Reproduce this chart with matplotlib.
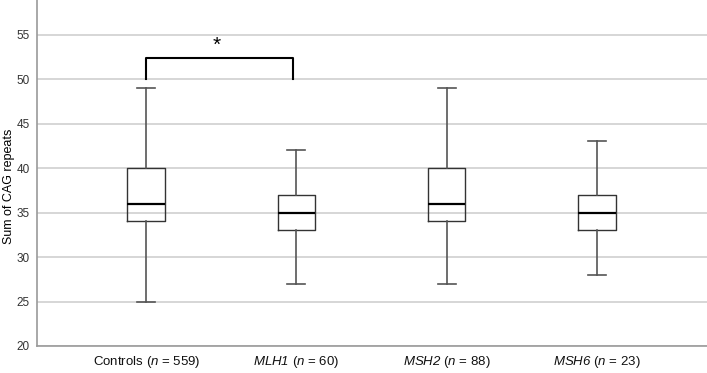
import matplotlib.pyplot as plt

groups = ["Controls", "MLH1", "MSH2", "MSH6"]
counts = [559, 60, 88, 23]
whisker_lo = [25, 27, 27, 28]
q1 = [34, 33, 34, 33]
median = [36, 35, 36, 35]
q3 = [40, 37, 40, 37]
whisker_hi = [49, 42, 49, 43]


def main():
    plt.rcParams["font.family"] = ["Liberation Sans", "DejaVu Sans"]
    plt.rcParams["mathtext.fontset"] = "custom"
    plt.rcParams["mathtext.rm"] = "Liberation Sans:italic"
    plt.rcParams["mathtext.it"] = "Liberation Sans:italic"
    fig = plt.figure(figsize=(7.07, 3.73), dpi=100)
    ax = fig.add_axes([37 / 707, 27 / 373, 670 / 707, 346 / 373])

    stats = []
    for i in range(len(groups)):
        stats.append(dict(whislo=whisker_lo[i], q1=q1[i], med=median[i],
                          q3=q3[i], whishi=whisker_hi[i], fliers=[]))
    pos = list(range(1, len(groups) + 1))
    ax.bxp(stats, positions=pos, widths=0.25, showfliers=False,
           boxprops=dict(color="#333333", linewidth=1.0),
           medianprops=dict(color="black", linewidth=1.6),
           whiskerprops=dict(color="#555555", linewidth=1.2),
           capprops=dict(color="#555555", linewidth=1.2),
           capwidths=0.12, zorder=3)

    # significance bracket
    ax.plot([1, 1, 1.98, 1.98], [50, 52.4, 52.4, 50], color="black", lw=1.5,
            zorder=4)
    ax.text(1.47, 53.8, "*", ha="center", va="center", fontsize=15)

    ax.set_xlim(0.273, 4.733)
    ax.set_ylim(20, 58.9)
    ax.set_yticks(range(20, 56, 5))
    ax.yaxis.grid(True, color="#cfcfcf", linewidth=1.2, zorder=0)
    ax.set_axisbelow(True)
    for s in ["top", "right"]:
        ax.spines[s].set_visible(False)
    for s in ["left", "bottom"]:
        ax.spines[s].set_color("#9a9a9a")
        ax.spines[s].set_linewidth(1.2)
    ax.tick_params(length=0, labelsize=8.5, labelcolor="#333333")
    ax.tick_params(axis="y", pad=5)
    ax.tick_params(axis="x", pad=6)

    labels = []
    for g, n in zip(groups, counts):
        name = g if g == "Controls" else r"$\mathit{" + g + "}$"
        labels.append(name + r" ($\mathit{n}$ = " + str(n) + ")")
    ax.set_xticks(pos)
    ax.set_xticklabels(labels, fontsize=9.5, color="#111111")
    fig.text(9 / 707, 0.5, "Sum of CAG repeats", rotation=90, fontsize=9,
             ha="center", va="center")

    fig.savefig("out.png", dpi=100)


if __name__ == "__main__":
    main()
